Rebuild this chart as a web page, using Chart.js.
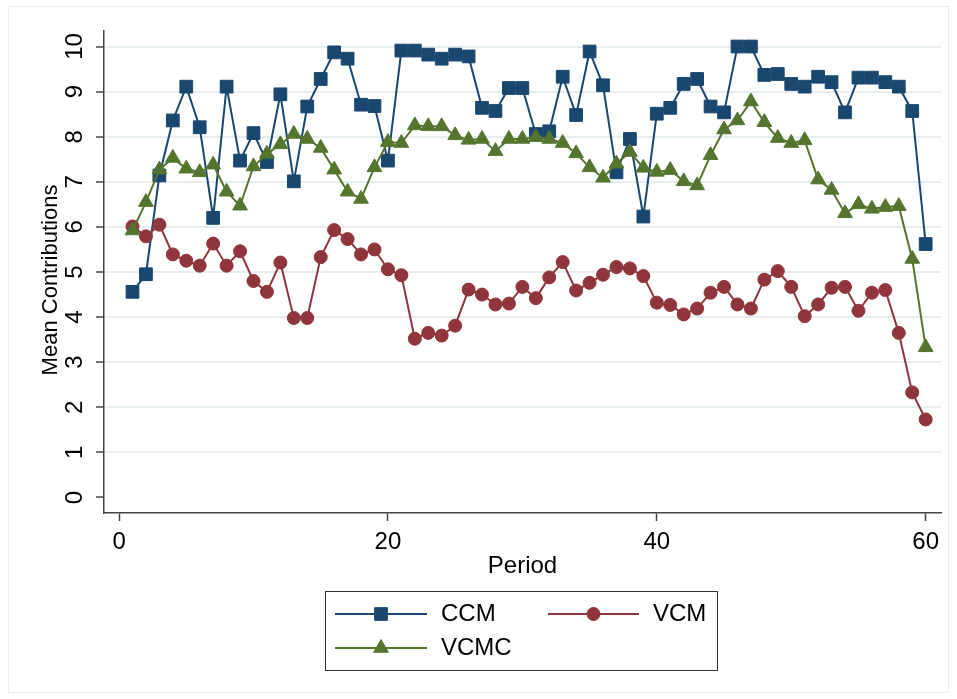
<!DOCTYPE html>
<html>
<head>
<meta charset="utf-8">
<script src="https://cdn.jsdelivr.net/npm/chart.js@4.4.0/dist/chart.umd.min.js"></script>
<style>
  body { margin: 0; background: #fff; }
  #wrap { width: 957px; height: 699px; }
</style>
</head>
<body>
<div id="wrap"><canvas id="chart" width="957" height="699"></canvas></div>
<script>
const periods = [1, 2, 3, 4, 5, 6, 7, 8, 9, 10, 11, 12, 13, 14, 15, 16, 17, 18, 19, 20,
  21, 22, 23, 24, 25, 26, 27, 28, 29, 30, 31, 32, 33, 34, 35, 36, 37, 38, 39, 40,
  41, 42, 43, 44, 45, 46, 47, 48, 49, 50, 51, 52, 53, 54, 55, 56, 57, 58, 59, 60];

const ccm = [4.56, 4.95, 7.14, 8.36, 9.11, 8.21, 6.20, 9.11, 7.47, 8.08,
  7.44, 8.94, 7.01, 8.67, 9.28, 9.87, 9.73, 8.71, 8.68, 7.47,
  9.91, 9.91, 9.82, 9.73, 9.82, 9.78, 8.64, 8.57, 9.08, 9.08,
  8.06, 8.12, 9.33, 8.48, 9.89, 9.14, 7.21, 7.95, 6.23, 8.51,
  8.64, 9.17, 9.28, 8.67, 8.54, 10.0, 10.0, 9.37, 9.39, 9.17,
  9.11, 9.33, 9.21, 8.54, 9.31, 9.31, 9.21, 9.11, 8.57, 5.62];

const vcm = [6.01, 5.79, 6.05, 5.39, 5.25, 5.14, 5.63, 5.14, 5.46, 4.80,
  4.56, 5.21, 3.98, 3.98, 5.33, 5.93, 5.73, 5.39, 5.50, 5.06,
  4.93, 3.52, 3.65, 3.59, 3.81, 4.61, 4.50, 4.28, 4.30, 4.67,
  4.42, 4.88, 5.22, 4.59, 4.76, 4.94, 5.11, 5.08, 4.91, 4.32,
  4.27, 4.06, 4.19, 4.54, 4.67, 4.28, 4.19, 4.83, 5.02, 4.67,
  4.02, 4.28, 4.65, 4.67, 4.14, 4.54, 4.60, 3.65, 2.33, 1.73];

const vcmc = [5.92, 6.55, 7.27, 7.53, 7.29, 7.21, 7.38, 6.78, 6.47, 7.34,
  7.62, 7.83, 8.06, 7.95, 7.75, 7.27, 6.78, 6.62, 7.32, 7.88,
  7.86, 8.25, 8.23, 8.23, 8.03, 7.93, 7.95, 7.68, 7.95, 7.95,
  7.99, 7.95, 7.86, 7.63, 7.32, 7.09, 7.40, 7.66, 7.31, 7.22,
  7.26, 7.01, 6.92, 7.59, 8.16, 8.36, 8.78, 8.32, 7.97, 7.86,
  7.92, 7.05, 6.82, 6.30, 6.50, 6.40, 6.44, 6.46, 5.29, 3.33];

const xTicks = [0, 20, 40, 60];
const yTicks = [0, 1, 2, 3, 4, 5, 6, 7, 8, 9, 10];

const seriesNames = ['CCM', 'VCM', 'VCMC'];
const seriesColors = ['#1a476f', '#90353b', '#55752f'];
const seriesMarkers = ['rect', 'circle', 'triangle'];
const markerSizes = [9, 6.5, 8.5];

const FONT = '24px "Liberation Sans", Arial, sans-serif';
const TITLE_FONT = '22px "Liberation Sans", Arial, sans-serif';

function points(values) {
  return values.map((v, i) => ({ x: periods[i], y: v }));
}

const allSeries = [ccm, vcm, vcmc];
const datasets = allSeries.map((vals, k) => ({
  label: seriesNames[k],
  data: points(vals),
  borderColor: seriesColors[k],
  backgroundColor: seriesColors[k],
  borderWidth: 2,
  pointStyle: seriesMarkers[k],
  pointRadius: markerSizes[k],
  pointBorderWidth: 1,
  pointBorderColor: seriesColors[k],
  pointBackgroundColor: seriesColors[k],
  tension: 0,
  order: 2 - k
}));

// white page with a faint frame, like the Stata graph region
const framePlugin = {
  id: 'frame',
  beforeDraw(chart) {
    const c = chart.ctx;
    c.save();
    c.fillStyle = '#fff';
    c.fillRect(0, 0, chart.width, chart.height);
    c.strokeStyle = '#e8eef0';
    c.lineWidth = 1;
    c.strokeRect(8.5, 6.5, 940, 686);
    c.restore();
  }
};

// tick labels, axis titles and the boxed legend
const labelsPlugin = {
  id: 'labels',
  afterDraw(chart) {
    const c = chart.ctx;
    const xs = chart.scales.x, ys = chart.scales.y;
    c.save();
    c.fillStyle = '#000';
    c.font = FONT;
    c.textAlign = 'center';
    c.textBaseline = 'middle';

    xTicks.forEach(v => c.fillText(String(v), xs.getPixelForValue(v), 542));
    c.fillText('Period', (chart.chartArea.left + chart.chartArea.right) / 2, 566);

    yTicks.forEach(v => {
      c.save();
      c.translate(75, ys.getPixelForValue(v));
      c.rotate(-Math.PI / 2);
      c.fillText(String(v), 0, 0);
      c.restore();
    });
    c.save();
    c.font = TITLE_FONT;
    c.translate(51, 280);
    c.rotate(-Math.PI / 2);
    c.fillText('Mean Contributions', 0, 0);
    c.restore();

    // legend
    c.strokeStyle = '#333';
    c.lineWidth = 1;
    c.strokeRect(325.5, 591.5, 392, 79);
    const slots = [
      { x0: 335, x1: 427, y: 614 },
      { x0: 548, x1: 639, y: 614 },
      { x0: 335, x1: 427, y: 648 }
    ];
    slots.forEach((s, k) => {
      c.strokeStyle = seriesColors[k];
      c.lineWidth = 2;
      c.beginPath();
      c.moveTo(s.x0, s.y);
      c.lineTo(s.x1, s.y);
      c.stroke();
      c.fillStyle = seriesColors[k];
      c.strokeStyle = seriesColors[k];
      c.lineWidth = 1;
      Chart.helpers.drawPoint(c, {
        pointStyle: seriesMarkers[k],
        radius: markerSizes[k],
        rotation: 0,
        borderWidth: 1
      }, (s.x0 + s.x1) / 2, s.y);
      c.fillStyle = '#000';
      c.textAlign = 'left';
      c.fillText(seriesNames[k], s.x1 + 14, s.y);
    });
    c.restore();
  }
};

const ctx = document.getElementById('chart').getContext('2d');
const myChart = new Chart(ctx, {
  type: 'line',
  data: { datasets: datasets },
  plugins: [framePlugin, labelsPlugin],
  options: {
    responsive: false,
    animation: false,
    devicePixelRatio: 1,
    layout: { padding: { left: 0, top: 31, right: 16, bottom: 0 } },
    plugins: { legend: { display: false }, tooltip: { enabled: false } },
    elements: { line: { fill: false } },
    scales: {
      x: {
        type: 'linear',
        min: -1.12,
        max: 61.14,
        afterBuildTicks: s => { s.ticks = xTicks.map(v => ({ value: v })); },
        afterFit: s => { s.height = 699 - 513; },
        ticks: { display: false },
        grid: {
          drawOnChartArea: false,
          drawTicks: true,
          tickLength: 8,
          tickWidth: 1.5,
          tickColor: '#444'
        },
        border: { display: true, color: '#444', width: 1.5 }
      },
      y: {
        type: 'linear',
        min: -0.344,
        max: 10.344,
        afterBuildTicks: s => { s.ticks = yTicks.map(v => ({ value: v })); },
        afterFit: s => { s.width = 104; },
        ticks: { display: false },
        grid: {
          color: c => (c.tick && c.tick.value === 0) ? 'rgba(0,0,0,0)' : '#e6eef1',
          lineWidth: 2,
          drawTicks: true,
          tickLength: 8,
          tickWidth: 1.5,
          tickColor: '#444'
        },
        border: { display: true, color: '#444', width: 1.5 }
      }
    }
  }
});
</script>
</body>
</html>
